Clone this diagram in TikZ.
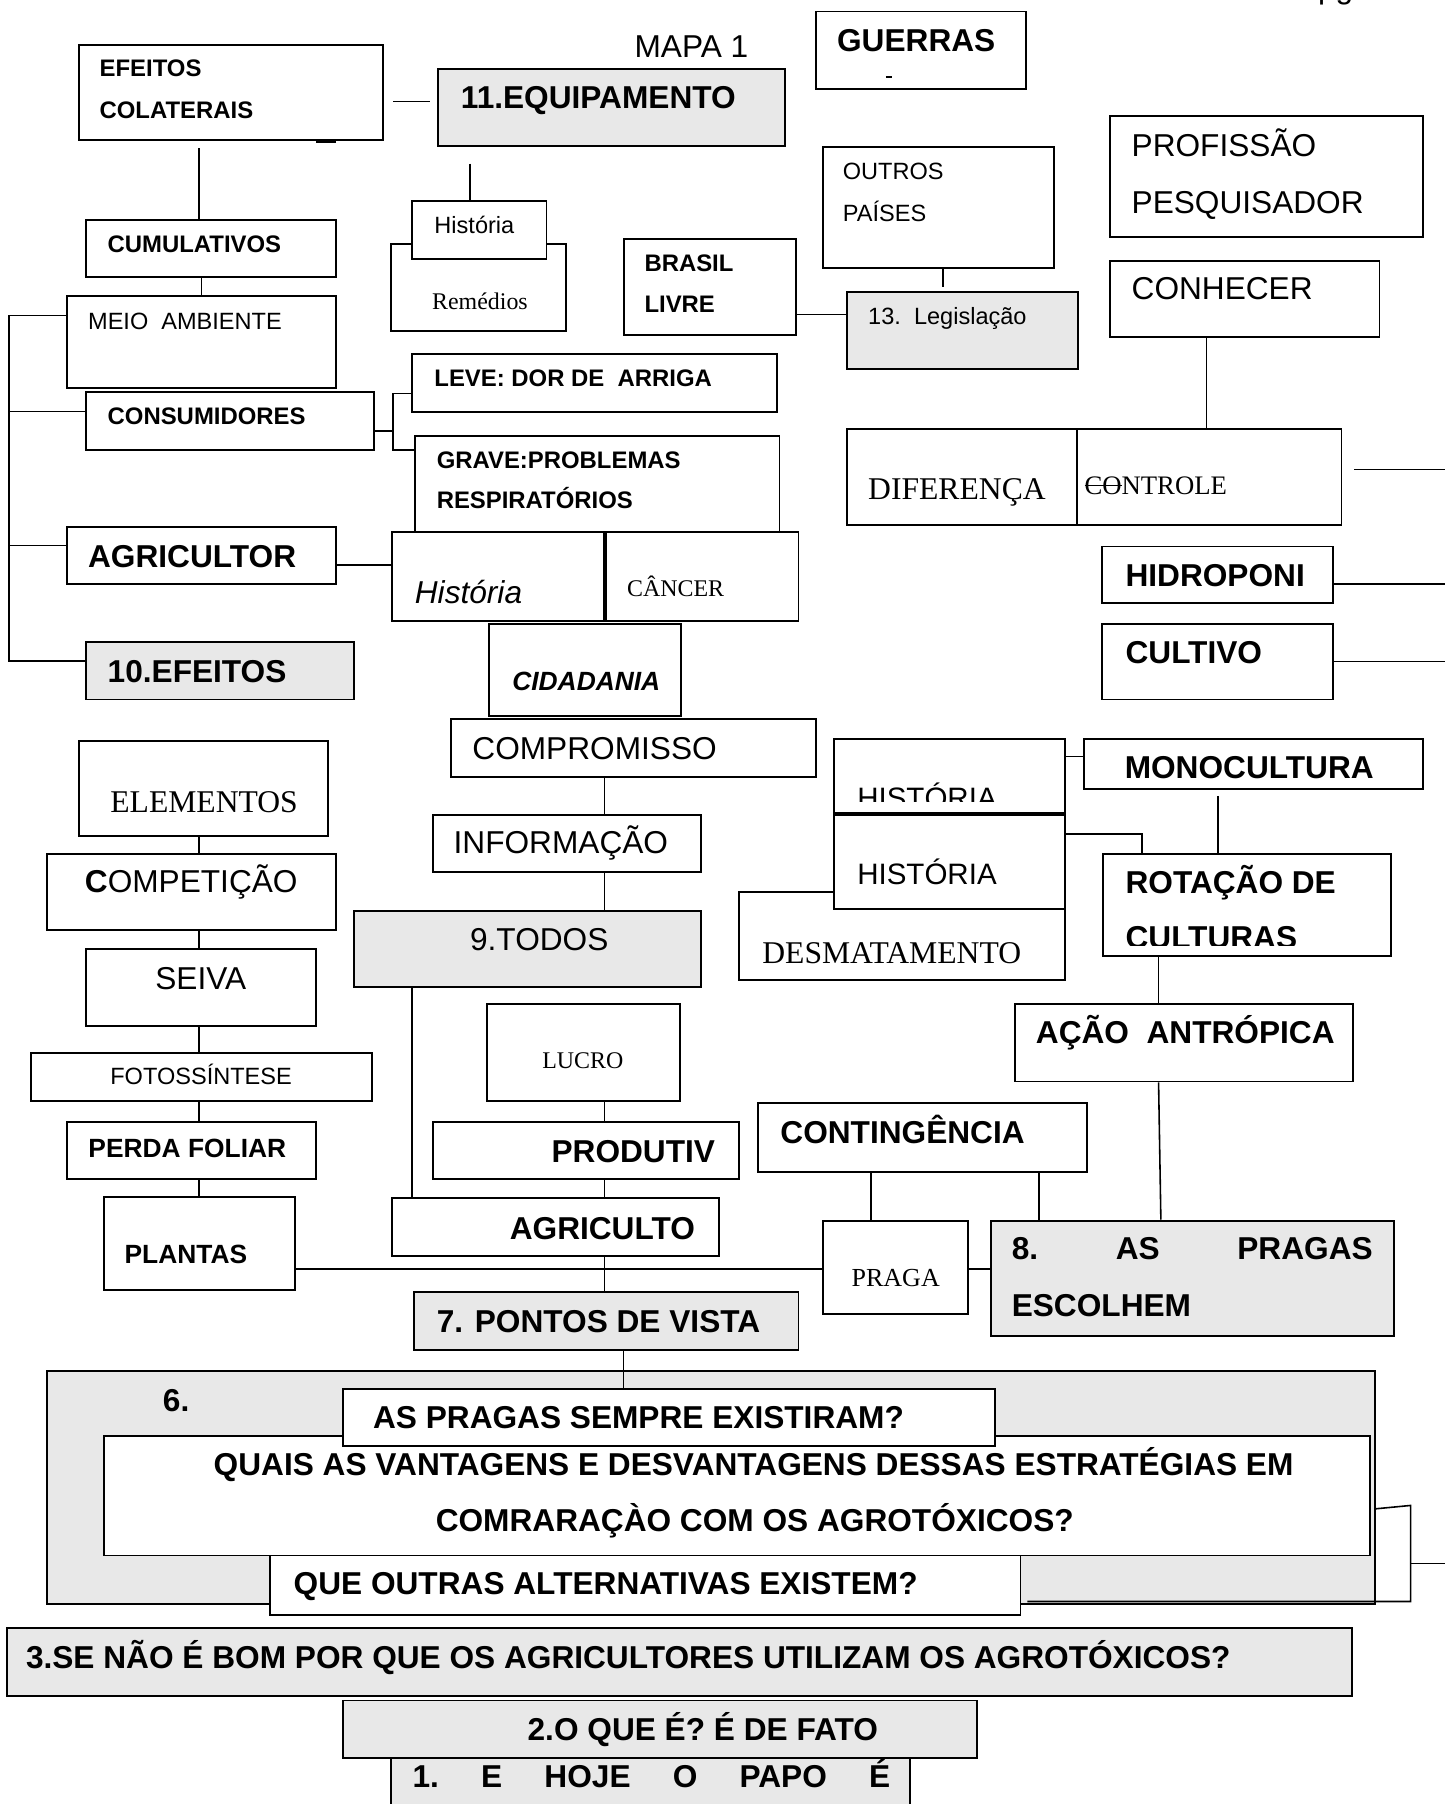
\documentclass[tikz,border=0pt]{standalone}
\usepackage{fontspec}
\setmainfont{Liberation Serif}
\setsansfont{Liberation Sans}
\usetikzlibrary{fit}
\newcommand\riscado[1]{\setbox0=\hbox{#1}\rlap{\rule[0.5\ht0]{\wd0}{0.45pt}}#1}

\begin{document}
\begin{tikzpicture}[x=0.11505mm, y=-0.11505mm,
  box/.style={draw, line width=0.55pt, fill=white, inner sep=0pt},
  gbox/.style={box, fill=black!9},
  cn/.style={line width=0.45pt},
  txt/.style={anchor=base west, inner sep=0pt},
  bb/.style={txt, font=\sffamily\bfseries\fontsize{9}{11}\selectfont},
  sb/.style={txt, font=\sffamily\bfseries\fontsize{6.8}{8}\selectfont},
  mb/.style={txt, font=\sffamily\bfseries\fontsize{7.5}{9}\selectfont},
  br/.style={txt, font=\sffamily\fontsize{9}{11}\selectfont},
  hs/.style={txt, font=\sffamily\fontsize{8.4}{10}\selectfont},
  sr/.style={txt, font=\sffamily\fontsize{6.7}{8}\selectfont},
  bs/.style={txt, font=\rmfamily\fontsize{9}{11}\selectfont},
  ss/.style={txt, font=\rmfamily\fontsize{6.8}{8}\selectfont},
]
\useasboundingbox (0,0) rectangle (1256,1568);

\node[br] (pg) at (1145,-1.5) {pg};
\node[br] (mapa) at (551,49.8) {MAPA 1};

\node[box, fit={(69,39) (333,122)}] (efc) {};
\node[sb] (efc-t1) at (86,66.6) {EFEITOS};
\node[sb] (efc-t2) at (86,102.8) {COLATERAIS};
\draw[line width=0.8pt] (275,123.5) -- (292,123.5);
\node[gbox, fit={(381,60) (682,127)}] (equip) {};
\node[bb] (equip-t) at (400,94) {11.EQUIPAMENTO};
\node[box, fit={(709,10) (892,77)}] (guerras) {};
\node[bb] (guerras-t) at (727,45) {GUERRAS};
\draw[cn] (770,67) -- (775,67);

\node[box, fit={(340,212) (492,288)}] (remed) {};
\node[ss] (remed-t) at (375,268.8) {Remédios};
\node[box, fit={(358,175) (475,225)}] (hist1) {};
\node[sr] (hist1-t) at (377,202.6) {História};

\node[box, fit={(75,191) (292,241)}] (cumul) {};
\node[sb] (cumul-t) at (93,219.3) {CUMULATIVOS};
\node[box, fit={(58,257) (292,337)}] (meio) {};
\node[sr] (meio-t) at (76,286.8) {MEIO\ \ AMBIENTE};
\node[box, fit={(75,341) (325,391)}] (consum) {};
\node[sb] (consum-t) at (93,369.3) {CONSUMIDORES};
\node[box, fit={(358,308) (675,358)}] (leve) {};
\node[sb] (leve-t) at (377,336) {LEVE: DOR DE\ \ ARRIGA};
\node[box, fit={(361,378.6) (677.5,462.6)}] (grave) {};
\node[sb] (grave-t1) at (379,407.6) {GRAVE:PROBLEMAS};
\node[sb] (grave-t2) at (379,442.4) {RESPIRATÓRIOS};
\node[box, fit={(58,458) (292,508)}] (agric) {};
\node[bb] (agric-t) at (76,493) {AGRICULTOR};
\node[box, fit={(341,462.6) (525,539.4)}] (histit) {};
\node[txt, font=\sffamily\itshape\fontsize{9}{11}\selectfont] (histit-t) at (360,524.3) {História};
\node[box, fit={(527,462.6) (694,539.4)}] (cancer) {};
\node[ss] (cancer-t) at (544.5,518.6) {CÂNCER};
\node[box, fit={(425,542) (592,622.5)}] (cidad) {};
\node[txt, font=\sffamily\bfseries\itshape\fontsize{7.5}{9}\selectfont] (cidad-t) at (444.7,600.2) {CIDADANIA};
\node[gbox, fit={(75,558) (308,608)}] (efeitos10) {};
\node[bb] (efeitos10-t) at (93,593) {10.EFEITOS};
\node[box, fit={(392,625) (709,675)}] (compro) {};
\node[br] (compro-t) at (410,660.4) {COMPROMISSO};

\node[box, fit={(69,644) (285,727)}] (elem) {};
\node[bs] (elem-t) at (95.3,706.2) {ELEMENTOS};
\node[box, fit={(41,742) (292,808)}] (compet) {};
\node[br] (compet-t) at (73.2,775.7) {\bfseries C\mdseries OMPETIÇÃO};
\node[box, fit={(75,825) (275,892)}] (seiva) {};
\node[br] (seiva-t) at (134.4,859.7) {SEIVA};
\node[box, fit={(27,915) (323,957)}] (foto) {};
\node[sr] (foto-t) at (95.3,942.9) {FOTOSSÍNTESE};
\node[box, fit={(58,975) (275,1025)}] (perda) {};
\node[mb] (perda-t) at (76.3,1005.7) {PERDA FOLIAR};
\node[box, fit={(90,1040) (256,1121)}] (plantas) {};
\node[mb] (plantas-t) at (107.7,1097.8) {PLANTAS};

\node[box, fit={(376,708) (609,758)}] (info) {};
\node[br] (info-t) at (393.7,742.1) {INFORMAÇÃO};
\node[gbox, fit={(308,792) (609,858)}] (todos) {};
\node[br] (todos-t) at (408,826.4) {9.TODOS};
\node[box, fit={(423,873) (591,957)}] (lucro) {};
\node[ss] (lucro-t) at (470.8,928.4) {LUCRO};
\node[box, fit={(376,975) (642,1025)}] (produtiv) {};
\node[bb] (produtiv-t) at (478.8,1010.4) {PRODUTIV};
\node[box, fit={(341,1041) (625,1092)}] (agricul) {};
\node[bb] (agricul-t) at (442.5,1077) {AGRICULTO};
\node[gbox, fit={(360,1123) (694,1173)}] (pontos) {};
\node[bb] (pontos-t) at (379,1158.1) {7. PONTOS DE VISTA};

\node[box, fit={(715,128) (916,233)}] (outros) {};
\node[sr] (outros-t1) at (732,156.4) {OUTROS};
\node[sr] (outros-t2) at (732,192.6) {PAÍSES};
\node[box, fit={(542,208) (692,291)}] (brasil) {};
\node[sb] (brasil-t1) at (559.6,236) {BRASIL};
\node[sb] (brasil-t2) at (559.6,271.4) {LIVRE};
\node[gbox, fit={(736,254) (937,321)}] (legis) {};
\node[sr] (legis-t) at (754,282.4) {13.\ \ Legislação};
\node[box, fit={(965,101) (1237,206)}] (prof) {};
\node[br] (prof-t1) at (983,136.2) {PROFISSÃO};
\node[br] (prof-t2) at (983,185.4) {PESQUISADOR};
\node[box, fit={(965,227) (1199,293)}] (conhecer) {};
\node[br] (conhecer-t) at (983,260.7) {CONHECER};
\node[box, fit={(736,373) (936,456)}] (dif) {};
\node[bs] (dif-t) at (754,434.5) {DIFERENÇA};
\node[box, fit={(936,373) (1166,456)}] (controle) {};
\node[txt, font=\rmfamily\fontsize{7.6}{9}\selectfont] (controle-t) at (942,430.2) {\riscado{CO}NTROLE};
\node[box, fit={(958,475) (1159,524)}] (hidro) {};
\node[bb] (hidro-t) at (977.7,509.8) {HIDROPONI};
\node[box, fit={(958,542) (1159,608)}] (cultivo) {};
\node[bb] (cultivo-t) at (977.7,576.4) {CULTIVO};

\node[box, fit={(725,642) (926,707)}] (histA) {};
\begin{scope}
  \clip (725,642) rectangle (926,697);
  \node[hs] (histA-t) at (744.5,702.8) {HISTÓRIA};
\end{scope}
\node[box, fit={(642,775) (926,852)}] (desmat) {};
\node[bs] (desmat-t) at (662,837.1) {DESMATAMENTO};
\node[box, fit={(725,708.5) (926,790)}] (histB) {};
\node[hs] (histB-t) at (744.5,769) {HISTÓRIA};
\node[box, fit={(942,642) (1237,686)}] (mono) {};
\node[bb] (mono-t) at (977,676.4) {MONOCULTURA};
\node[box, fit={(959,742) (1209,831)}] (rotacao) {};
\node[bb] (rotacao-t1) at (977.7,776.9) {ROTAÇÃO DE};
\begin{scope}
  \clip (959,790) rectangle (1209,822);
  \node[bb] (rotacao-t2) at (977.7,824.5) {CULTURAS};
\end{scope}
\node[box, fit={(882,873) (1176,940)}] (acao) {};
\node[bb] (acao-t) at (899.8,907.3) {AÇÃO\ \ ANTRÓPICA};
\node[box, fit={(659,959) (945,1019)}] (conting) {};
\node[bb] (conting-t) at (677.7,993.5) {CONTINGÊNCIA};
\node[box, fit={(715,1061) (841,1142)}] (praga) {};
\node[txt, font=\rmfamily\fontsize{7.4}{9}\selectfont] (praga-t) at (739.6,1118.1) {PRAGA};
\node[gbox, fit={(861,1061) (1212,1161)}] (pragas8) {};
\node[bb] (pragas8-t1) at (878.8,1095) {\hbox to 102.7pt{8.\hfill AS\hfill PRAGAS}};
\node[bb] (pragas8-t2) at (878.8,1144.2) {ESCOLHEM};

\node[gbox, fit={(41,1192) (1195,1394)}] (grupo6) {};
\node[bb] (grupo6-t) at (141,1226.8) {6.};
\node[box, fit={(90,1248.5) (1190.5,1352)}] (quais) {};
\node[bb, anchor=base] (quais-t1) at (655,1282.4) {QUAIS AS VANTAGENS E DESVANTAGENS DESSAS ESTRATÉGIAS EM};
\node[bb, anchor=base] (quais-t2) at (656,1331.1) {COMRARAÇÀO COM OS AGROTÓXICOS?};
\node[box, fit={(298,1207) (865,1257)}] (sempre) {};
\node[bb] (sempre-t) at (323.7,1241.2) {AS PRAGAS SEMPRE EXISTIRAM?};
\node[box, fit={(235,1352) (887,1403.5)}] (outras) {};
\node[bb] (outras-t) at (254.7,1386.1) {QUE OUTRAS ALTERNATIVAS EXISTEM?};
\node[gbox, fit={(6,1415) (1175,1474)}] (se3) {};
\node[bb] (se3-t) at (22,1449.8) {3.SE NÃO É BOM POR QUE OS AGRICULTORES UTILIZAM OS AGROTÓXICOS?};
\node[gbox, fit={(298,1478) (849,1528)}] (oque2) {};
\node[bb] (oque2-t) at (458,1513) {2.O QUE É? É DE FATO};
\node[gbox, fit={(340,1528) (791,1580)}] (hoje1) {};
\node[bb] (hoje1-t) at (358,1554) {\hbox to 135.9pt{1.\hfill E\hfill HOJE\hfill O\hfill PAPO\hfill É}};

\coordinate (lb) at (8,274.3);
\coordinate (cb) at (341.5,374.5);
\coordinate (e1) at (1256,407.9);
\coordinate (e2) at (1256,507.5);
\coordinate (e3) at (1256,575);
\coordinate (e4) at (1256,1359);
\coordinate (rb1) at (1226,1308.5);
\coordinate (rb2) at (1226,1392);

\draw[cn, shorten <=2.6pt, shorten >=2pt] (efc.east |- 0,88.4) -- (equip.west |- 0,88.4);
\draw[cn, shorten <=2pt] (efc.south -| 173,0) -- (cumul.north -| 173,0);
\draw[cn] (cumul.south -| 175,0) -- (meio.north -| 175,0);
\draw[cn, shorten <=4.7pt] (equip.south -| 408.4,0) -- (hist1.north -| 408.4,0);
\draw[cn] (meio.west |- lb) -- (lb) |- (efeitos10.west |- 0,574.6);
\draw[cn] (consum.west |- 0,357.7) -- (lb |- 0,357.7);
\draw[cn] (agric.west |- 0,474.2) -- (lb |- 0,474.2);
\draw[cn] (consum.east |- cb) -- (cb);
\draw[cn] (leve.west |- 0,342) -| (cb) |- (grave.west |- 0,391);
\draw[cn] (agric.east |- 0,491) -- (histit.west |- 0,491);
\draw[cn] (compro.south -| 525.4,0) -- (info.north -| 525.4,0);
\draw[cn] (info.south -| 525.4,0) -- (todos.north -| 525.4,0);
\draw[cn] (todos.south -| 358.2,0) -- (agricul.north -| 358.2,0);
\draw[cn] (lucro.south -| 525.4,0) -- (produtiv.north -| 525.4,0);
\draw[cn] (produtiv.south -| 525.4,0) -- (agricul.north -| 525.4,0);
\draw[cn] (agricul.south -| 525.4,0) -- (pontos.north -| 525.4,0);
\draw[cn] (elem.south -| 172.9,0) -- (compet.north -| 172.9,0);
\draw[cn] (compet.south -| 172.9,0) -- (seiva.north -| 172.9,0);
\draw[cn] (seiva.south -| 172.9,0) -- (foto.north -| 172.9,0);
\draw[cn] (foto.south -| 172.9,0) -- (perda.north -| 172.9,0);
\draw[cn] (perda.south -| 172.9,0) -- (plantas.north -| 172.9,0);
\draw[cn] (plantas.east |- 0,1102.8) -- (praga.west |- 0,1102.8);
\draw[cn] (praga.east |- 0,1102.8) -- (pragas8.west |- 0,1102.8);
\draw[cn] (pontos.south -| 541.8,0) -- (sempre.north -| 541.8,0);
\draw[cn] (conting.south -| 757,0) -- (praga.north -| 757,0);
\draw[cn] (conting.south -| 903,0) -- (pragas8.north -| 903,0);
\draw[cn] (acao.south -| 1007,0) -- (pragas8.north -| 1009,0);
\draw[cn] (rotacao.south -| 1007,0) -- (acao.north -| 1007,0);
\draw[cn, shorten <=1.6pt] (mono.south -| 1058.5,0) -- (rotacao.north -| 1058.5,0);
\draw[cn] (histB.east |- 0,725) -| (rotacao.north -| 992.5,0);
\draw[cn] (histA.east |- 0,657.7) -- (mono.west |- 0,657.7);
\draw[cn, shorten >=1.3pt] (outros.south -| 819.7,0) -- (legis.north -| 819.7,0);
\draw[cn] (brasil.east |- 0,273.4) -- (legis.west |- 0,273.4);
\draw[cn] (conhecer.south -| 1048.8,0) -- (controle.north -| 1048.8,0);
\draw[cn, shorten <=3.3pt] (controle.east |- e1) -- (e1);
\draw[cn] (hidro.east |- e2) -- (e2);
\draw[cn] (cultivo.east |- e3) -- (e3);
\draw[cn, shorten >=1.7pt] (grupo6.east |- 0,1311.4) -- (rb1) -- (rb2) -- (outras.east |- rb2);
\draw[cn] (rb1 |- e4) -- (e4);
\end{tikzpicture}
\end{document}
